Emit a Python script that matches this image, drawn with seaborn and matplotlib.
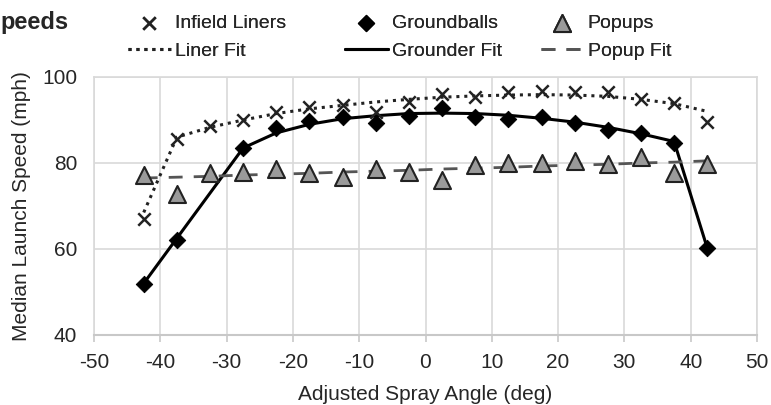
import numpy as np
import pandas as pd
import matplotlib
matplotlib.use("Agg")
import matplotlib.pyplot as plt
import seaborn as sns

# ---- data ----
angles = [-42.5, -37.5, -32.5, -27.5, -22.5, -17.5, -12.5, -7.5, -2.5,
          2.5, 7.5, 12.5, 17.5, 22.5, 27.5, 32.5, 37.5, 42.5]
liners = [67.0, 85.6, 88.7, 90.0, 91.9, 93.1, 93.6, 91.9, 94.1,
          96.0, 95.4, 96.6, 96.8, 96.4, 96.4, 95.0, 93.9, 89.6]
grounders = [51.9, 62.1, np.nan, 83.5, 88.1, 89.8, 90.6, 89.4, 91.0,
             92.9, 90.8, 90.2, 90.6, 89.2, 87.7, 86.9, 84.6, 60.2]
popups = [77.2, 72.8, 77.6, 78.0, 78.5, 77.6, 76.7, 78.5, 78.0,
          76.0, 79.5, 80.1, 80.0, 80.5, 79.8, 81.3, 77.7, 79.8]
liner_fit = [68.5, 86.0, 88.3, 90.0, 91.5, 92.6, 93.4, 94.2, 94.8,
             95.3, 95.6, 95.8, 95.9, 95.8, 95.5, 94.8, 93.8, 92.0]
grounder_fit = [52.0, 62.5, 73.0, 83.5, 87.0, 89.0, 90.3, 91.0, 91.5,
                91.6, 91.5, 91.1, 90.4, 89.5, 88.3, 86.8, 85.0, 60.2]
popup_fit = [76.5, 76.7, 76.9, 77.2, 77.4, 77.6, 77.9, 78.1, 78.3,
             78.6, 78.8, 79.0, 79.3, 79.5, 79.7, 80.0, 80.2, 80.5]

x_ticks = [-50, -40, -30, -20, -10, 0, 10, 20, 30, 40, 50]
y_ticks = [40, 60, 80, 100]

df = pd.DataFrame({"angle": angles, "liners": liners, "grounders": grounders,
                   "popups": popups, "liner_fit": liner_fit,
                   "grounder_fit": grounder_fit, "popup_fit": popup_fit})

sns.set_theme(style="white")
plt.rcParams["font.family"] = ["Liberation Sans", "DejaVu Sans"]

W, H = 771, 405
fig = plt.figure(figsize=(W / 100, H / 100), dpi=100)
ax = fig.add_axes([94 / W, 1 - 335 / H, (757 - 94) / W, (335 - 77) / H])

grid_c = "#d9d9d9"
# fits
sns.lineplot(data=df, x="angle", y="liner_fit", ax=ax, color="#222222",
             linestyle=(0, (1, 1.6)), linewidth=2.2, label="Liner Fit", zorder=2)
sns.lineplot(data=df, x="angle", y="grounder_fit", ax=ax, color="black",
             linewidth=2.2, label="Grounder Fit", zorder=2)
sns.lineplot(data=df, x="angle", y="popup_fit", ax=ax, color="#555555",
             linestyle=(0, (5, 4)), linewidth=2.0, label="Popup Fit", zorder=2)
# points
sns.scatterplot(data=df, x="angle", y="liners", ax=ax, marker="x", s=80,
                color="#222222", linewidth=1.8, label="Infield Liners", zorder=3)
sns.scatterplot(data=df, x="angle", y="grounders", ax=ax, marker="D", s=70,
                color="black", edgecolor="black", label="Groundballs", zorder=4)
sns.scatterplot(data=df, x="angle", y="popups", ax=ax, marker="^", s=150,
                color="#9a9a9a", edgecolor="#222222", linewidth=1.5,
                label="Popups", zorder=5)

ax.set_xlim(-50, 50)
ax.set_ylim(40, 100)
ax.set_xticks(x_ticks)
ax.set_yticks(y_ticks)
ax.set_xticklabels([str(t) for t in x_ticks])
ax.set_yticklabels([str(t) for t in y_ticks])
ax.grid(True, color=grid_c, linewidth=1.2)
ax.set_axisbelow(True)
for side in ["top", "right", "left"]:
    ax.spines[side].set_color(grid_c)
    ax.spines[side].set_linewidth(1.2)
ax.spines["bottom"].set_color("#c8c8c8")
ax.spines["bottom"].set_linewidth(1.5)
ax.tick_params(axis="x", bottom=True, length=5, color="#c8c8c8", width=1.2,
               labelsize=15, pad=8)
ax.tick_params(axis="y", left=False, labelsize=15, pad=6)
ax.set_xlabel("Adjusted Spray Angle (deg)", fontsize=15, labelpad=9)
ax.set_ylabel("Median Launch Speed (mph)", fontsize=15, labelpad=8)

handles, labels = ax.get_legend_handles_labels()
hmap = dict(zip(labels, handles))
if ax.get_legend() is not None:
    ax.get_legend().remove()
groups = [(["Infield Liners", "Liner Fit"], 128),
          (["Groundballs", "Grounder Fit"], 345),
          (["Popups", "Popup Fit"], 541)]
for labs, xpix in groups:
    leg = fig.legend([hmap[k] for k in labs], labs, frameon=False,
                     loc="upper left", bbox_to_anchor=(xpix / W, 1 - 14 / H),
                     bbox_transform=fig.transFigure, fontsize=14,
                     handlelength=2.2, handletextpad=0.2, labelspacing=0.55,
                     borderpad=0, borderaxespad=0)
    fig.add_artist(leg)

fig.text(0.0, 1 - 22 / H, "peeds", fontsize=17, fontweight="bold",
         ha="left", va="center")

fig.savefig("out.png", dpi=100)
